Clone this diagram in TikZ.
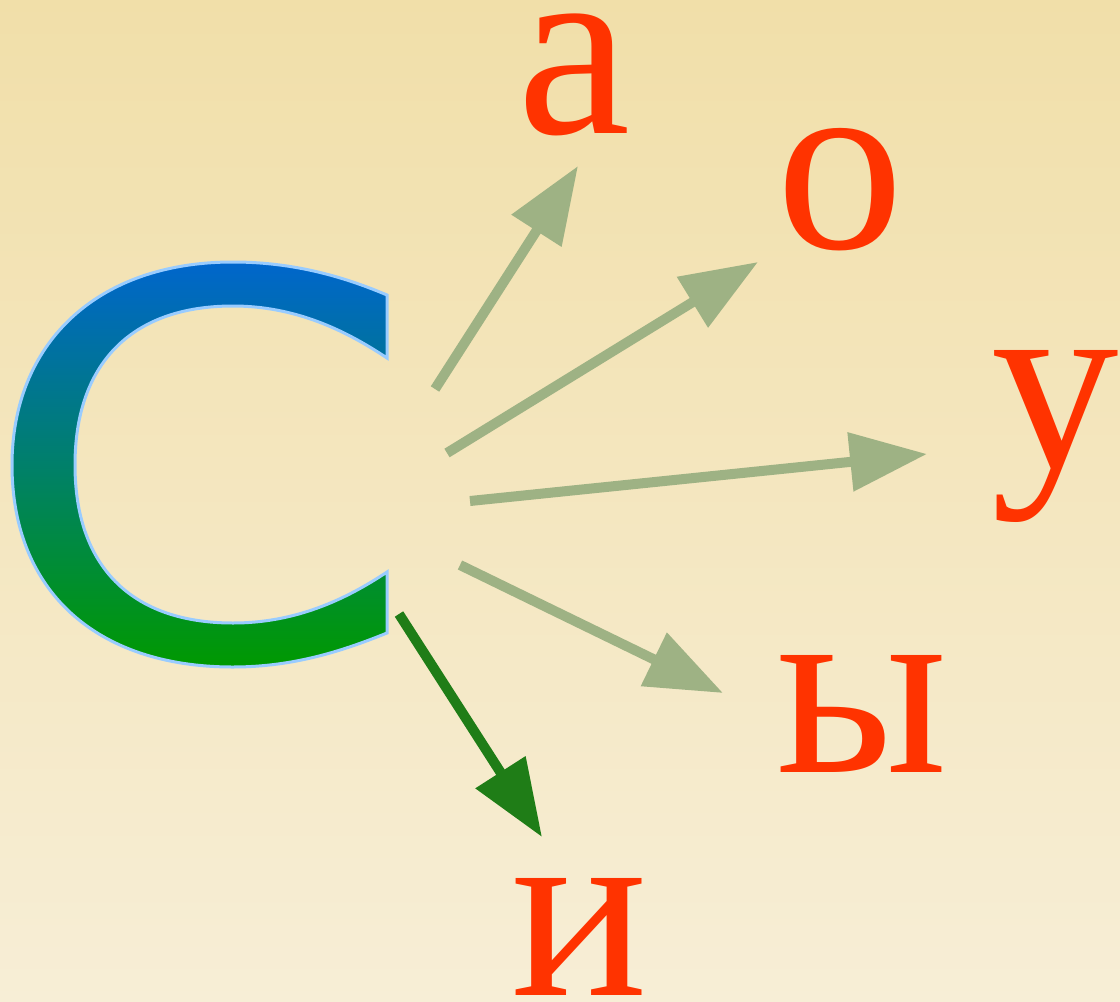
\documentclass[tikz,border=0pt]{standalone}
\usepackage{fontspec}
\setmainfont{Liberation Serif}
\usetikzlibrary{arrows.meta}
\definecolor{bgtop}{RGB}{241,223,169}
\definecolor{bgbot}{RGB}{247,238,214}
\definecolor{letterred}{RGB}{255,51,0}
\definecolor{arrowgray}{RGB}{158,178,132}
\definecolor{arrowgreen}{RGB}{31,125,23}
\definecolor{cblue}{RGB}{0,102,204}
\definecolor{cgreen}{RGB}{0,153,0}
\definecolor{cedge}{RGB}{153,204,255}
\tikzset{
  vowel/.style={text=letterred, inner sep=0pt, anchor=base, font=\fontsize{255}{255}\selectfont},
  soundarrow/.style={draw=arrowgray, line width=10pt, -{Triangle[length=77pt,width=57pt]}},
  chosenarrow/.style={soundarrow, draw=arrowgreen, fill=arrowgreen},
}
\begin{document}
\begin{tikzpicture}[x=1pt,y=-1pt]
\shade[top color=bgtop,bottom color=bgbot] (0,0) rectangle (1120,1002);
\useasboundingbox (0,0) rectangle (1120,1002);
% big letter C
\path[draw=cedge, line width=3pt, top color=cblue, bottom color=cgreen, middle color={rgb,255:red,0;green,128;blue,106}]
  (387,295) .. controls (340,275) and (290,262) .. (233,262)
  .. controls (95,262) and (12,345) .. (12,465)
  .. controls (12,590) and (95,667) .. (233,667)
  .. controls (295,667) and (345,650) .. (387,633)
  -- (387,572)
  .. controls (345,600) and (295,623) .. (233,623)
  .. controls (130,623) and (75,565) .. (75,465)
  .. controls (75,365) and (130,306) .. (233,306)
  .. controls (295,306) and (345,330) .. (387,358) -- cycle;
% vowels
\node[vowel] (a) at (574,133) {а};
\node[vowel] (o) at (840,248) {о};
\node[vowel] (u) at (1055,467) {у};
\node[vowel] (y) at (862,772) {ы};
\node[vowel] (i) at (580,995) {и};
% arrow ends
\coordinate (sa) at (435,389);  \coordinate (ea) at (578,166);
\coordinate (so) at (447,453);  \coordinate (eo) at (758,262);
\coordinate (su) at (470,501);  \coordinate (eu) at (927,454);
\coordinate (sy) at (460,565);  \coordinate (ey) at (723,693);
\coordinate (si) at (399,614);  \coordinate (ei) at (542,837);
\draw[soundarrow] (sa) -- (ea);
\draw[soundarrow] (so) -- (eo);
\draw[soundarrow] (su) -- (eu);
\draw[soundarrow] (sy) -- (ey);
\draw[chosenarrow] (si) -- (ei);
\end{tikzpicture}
\end{document}
